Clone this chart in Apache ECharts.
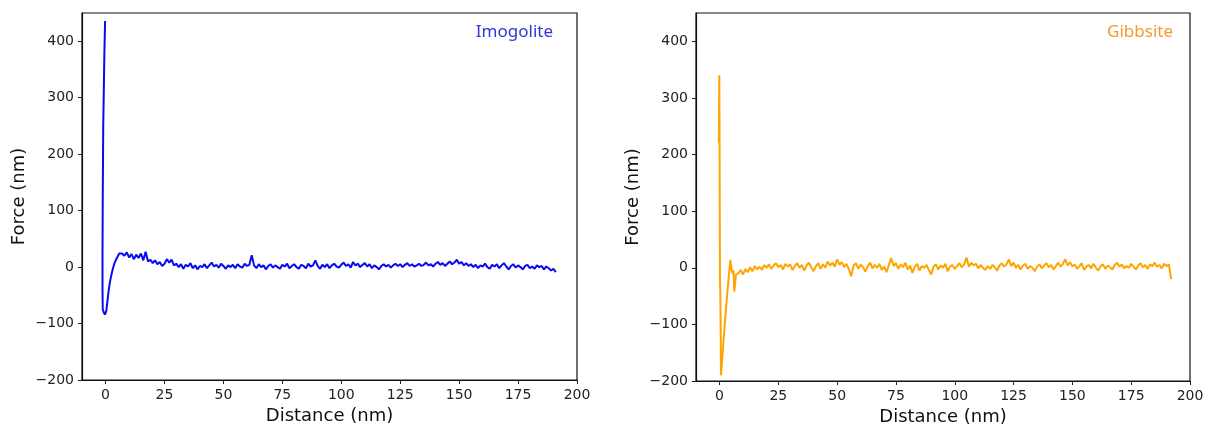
<!DOCTYPE html>
<html>
<head>
<meta charset="utf-8">
<script src="https://cdn.jsdelivr.net/npm/echarts@6/dist/echarts.min.js"></script>
<style>
html,body{margin:0;padding:0;background:#fff;}
#chart{width:1206px;height:427px;}
</style>
</head>
<body>
<div id="chart"></div>
<script>
// ---- data ----
const xTicks = [0, 25, 50, 75, 100, 125, 150, 175, 200];
const yTicks = [-200, -100, 0, 100, 200, 300, 400];

// Imogolite: approach spike (distance, force)
const imoHeadX = [-0.2, -0.5, -0.8, -1.0, -1.2, -1.3, -1.3, -1.2, -0.8, -0.3, 0.3, 0.8, 1.3, 1.8, 2.3, 2.8, 3.3, 3.8, 4.3, 4.8, 5.3, 5.8, 6.3];
const imoHeadY = [436, 380, 300, 248, 120, 20, -40, -75, -80, -84, -78, -60, -42, -28, -17, -8, 0, 7, 12, 16, 20, 24, 22];
// Imogolite: noisy tail, one value per nm starting at 7 nm
const imoTailStart = 7;
const imoTail = [
  24, 20, 26, 17, 23, 14, 22, 16, 24, 12, 27, 10, 13, 7, 12, 5, 9, 2, 6, 14,
  8, 13, 3, 6, 0, 5, -3, 4, 1, 7, -2, 3, -4, 2, 0, 5, -2, 3, 8, 1,
  4, -1, 6, 2, -3, 3, 0, 4, -2, 5, 1, -1, 6, 2, 4, 21, 3, -2, 5, 0,
  3, -4, 2, 5, -1, 3, 0, -3, 4, 1, 6, -2, 2, 5, 0, -3, 4, 2, -2, 6,
  1, 3, 12, 2, -3, 4, 0, 5, -2, 3, 6, 1, -1, 4, 8, 2, 5, -1, 9, 3,
  6, 0, 4, 7, 1, 5, -2, 3, 0, -4, 2, 5, 1, 4, -1, 3, 6, 2, 5, 0,
  4, 7, 2, 5, 1, 3, 6, 2, 4, 8, 3, 5, 1, 6, 9, 4, 7, 2, 6, 10,
  5, 8, 13, 6, 9, 3, 7, 2, 5, 0, 4, -2, 3, 1, 6, 0, -3, 4, 1, 5,
  -2, 3, 7, 1, -4, 2, 5, -1, 3, 0, -4, 2, 4, -2, 1, -3, 3, 0, 2, -4,
  1, -2, -6, -3, -9
];

// Gibbsite: approach spike (distance, force)
const gibHeadX = [-0.3, -0.1, 0.0, 0.1, 0.2, 0.3, 0.5, 0.6, 1.5, 2.5, 3.5, 4.6, 5.0, 5.5, 5.9, 6.3, 7.0];
const gibHeadY = [220, 340, 250, 100, -30, -38, -110, -190, -140, -85, -35, 14, 0, -10, -4, -42, -12];
// Gibbsite: noisy tail, one value per nm starting at 8 nm
const gibTailStart = 8;
const gibTail = [
  -10, -4, -12, -2, -8, 1, -6, 3, -3, 2, -4, 5, 0, 6, -2, 4, 8, 1, 5, -3,
  7, 2, 6, -4, 3, 8, 0, 5, -5, 4, 9, 1, -6, 3, 8, -2, 6, 0, 11, 4,
  9, 2, 15, 5, 10, 1, 7, -3, -15, 4, 8, -2, 6, 1, -7, 3, 9, -1, 5, 0,
  7, -4, 2, -8, 5, 17, 3, 8, -2, 6, 1, 9, -3, 4, -9, 2, 7, -5, 3, 0,
  5, -4, -12, 2, 6, -3, 4, 0, 7, -6, 2, 5, -2, 3, 8, 1, 6, 18, 2, 9,
  4, 7, -1, 5, 0, -4, 3, -2, 5, 1, -5, 4, 8, 2, 6, 15, 3, 9, 0, 5,
  -3, 4, 7, -2, 3, 0, -6, 2, 6, -1, 4, 8, 1, 5, -3, 3, 9, 2, 7, 15,
  4, 10, 2, 6, -2, 3, 8, -4, 2, 5, -1, 7, 0, -5, 3, 6, -2, 4, 1, -3,
  5, 9, 2, 6, -1, 3, 0, 7, 2, -3, 4, 8, 1, 5, -2, 6, 3, 9, 2, 5,
  -1, 7, 3, 6, -20
];

// ---- build series ----
function buildSeries(hx, hy, start, tail) {
  const pts = hx.map((x, i) => [x, hy[i]]);
  tail.forEach((v, i) => pts.push([start + i, v]));
  return pts;
}
const imoData = buildSeries(imoHeadX, imoHeadY, imoTailStart, imoTail);
const gibData = buildSeries(gibHeadX, gibHeadY, gibTailStart, gibTail);

const tickColor = '#222';
const fmt = v => String(v).replace('-', '\u2212');

function xAxis(idx) {
  return {
    type: 'value', gridIndex: idx, min: -10, max: 200, position: 'bottom',
    name: 'Distance (nm)', nameLocation: 'middle', nameGap: 27,
    nameTextStyle: { fontFamily: 'DejaVu Sans', fontSize: 18, color: '#111' },
    axisLine: { show: true, onZero: false, lineStyle: { color: '#111', width: 1.2 } },
    axisTick: { show: true, length: 4, customValues: xTicks, lineStyle: { color: tickColor, width: 1 } },
    axisLabel: { customValues: xTicks, formatter: fmt, fontFamily: 'DejaVu Sans', fontSize: 14, color: tickColor, margin: 8 },
    splitLine: { show: false }
  };
}
function yAxis(idx) {
  return {
    type: 'value', gridIndex: idx, min: -200, max: 450, position: 'left',
    name: 'Force (nm)', nameLocation: 'middle', nameGap: 54, nameRotate: 90,
    nameTextStyle: { fontFamily: 'DejaVu Sans', fontSize: 18, color: '#111' },
    axisLine: { show: true, onZero: false, lineStyle: { color: '#111', width: 1.2 } },
    axisTick: { show: true, length: 4, customValues: yTicks, lineStyle: { color: tickColor, width: 1 } },
    axisLabel: { customValues: yTicks, formatter: fmt, fontFamily: 'DejaVu Sans', fontSize: 14, color: tickColor, margin: 8 },
    splitLine: { show: false }
  };
}

const chart = echarts.init(document.getElementById('chart'), null, { renderer: 'canvas' });
chart.setOption({
  animation: false,
  backgroundColor: '#fff',
  grid: [
    { left: 82, top: 13, width: 495, height: 367, outerBoundsMode: 'none', containLabel: false, show: true, borderColor: '#111', borderWidth: 1.2, backgroundColor: 'transparent' },
    { left: 696, top: 13, width: 494, height: 368, outerBoundsMode: 'none', containLabel: false, show: true, borderColor: '#111', borderWidth: 1.2, backgroundColor: 'transparent' }
  ],
  xAxis: [xAxis(0), xAxis(1)],
  yAxis: [yAxis(0), yAxis(1)],
  graphic: [
    { type: 'text', right: 1206 - 553, top: 24, style: { text: 'Imogolite', fill: '#3535d4', font: '17px "Noto Sans", sans-serif' } },
    { type: 'text', right: 1206 - 1173, top: 24, style: { text: 'Gibbsite', fill: '#f29b30', font: '17px "Noto Sans", sans-serif' } }
  ],
  series: [
    { type: 'line', xAxisIndex: 0, yAxisIndex: 0, data: imoData, showSymbol: false, symbol: 'none',
      lineStyle: { color: '#0a0af0', width: 2 }, clip: true },
    { type: 'line', xAxisIndex: 1, yAxisIndex: 1, data: gibData, showSymbol: false, symbol: 'none',
      lineStyle: { color: '#ffa500', width: 2 }, clip: true }
  ]
});
</script>
</body>
</html>
